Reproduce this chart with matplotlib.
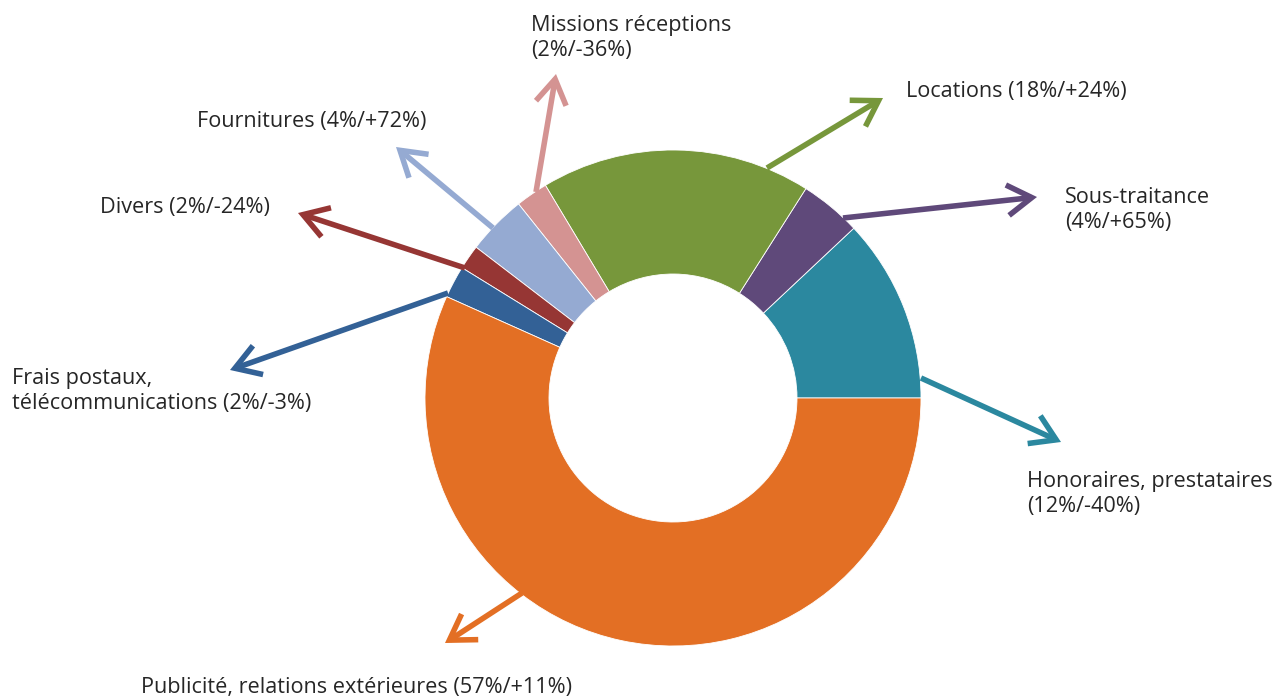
import matplotlib
matplotlib.use("Agg")
import matplotlib.pyplot as plt

# charges 2016 : part du total / evolution
categories = ["Honoraires, prestataires", "Sous-traitance", "Locations",
              "Missions réceptions", "Fournitures", "Divers",
              "Frais postaux, télécommunications",
              "Publicité, relations extérieures"]
shares = [12.0, 4.0, 17.6, 2.1, 3.9, 1.6, 2.1, 56.7]
share_labels = ["12%", "4%", "18%", "2%", "4%", "2%", "2%", "57%"]
changes = ["-40%", "+65%", "+24%", "-36%", "+72%", "-24%", "-3%", "+11%"]

colors = ["#2B889F", "#5F497A", "#77973B", "#D49392",
          "#95AAD2", "#963634", "#336196", "#E36F24"]

# label text as laid out in the picture
label_text = [
    "Honoraires, prestataires\n({}/{})",
    "Sous-traitance\n({}/{})",
    "Locations ({}/{})",
    "Missions réceptions\n({}/{})",
    "Fournitures ({}/{})",
    "Divers ({}/{})",
    "Frais postaux,\ntélécommunications ({}/{})",
    "Publicité, relations extérieures ({}/{})",
]

W, H = 1274, 698
# layout in pixels (y from top): arrow start, arrow tip, label position
arrow_start = [(921, 378), (843, 218), (767, 168), (536, 192),
               (493, 228), (465, 268), (448, 293), (522, 593)]
arrow_tip = [(1061, 442), (1037, 197), (883, 98), (556, 74),
             (396, 147), (298, 213), (230, 370), (445, 643)]
label_pos = [(1027, 494), (1065, 210), (906, 92), (531, 38),
             (197, 122), (100, 207), (12, 391), (141, 687)]

plt.rcParams['font.family'] = ['Open Sans', 'DejaVu Sans']

fig = plt.figure(figsize=(W / 100, H / 100), dpi=100)
ax = fig.add_axes([0, 0, 1, 1])

ax.pie(shares, colors=colors, startangle=0, counterclock=True,
       radius=248, center=(673, H - 398), frame=True,
       wedgeprops=dict(width=124, edgecolor="white", linewidth=0.6))
ax.set_xlim(0, W)
ax.set_ylim(0, H)
ax.axis("off")

for i in range(len(categories)):
    sx, sy = arrow_start[i]
    tx, ty = arrow_tip[i]
    ax.annotate("", xy=(tx, H - ty), xytext=(sx, H - sy),
                arrowprops=dict(arrowstyle="->,head_length=0.8,head_width=0.5",
                                color=colors[i], lw=4.0, mutation_scale=22,
                                shrinkA=0, shrinkB=0, joinstyle="miter",
                                capstyle="butt"),
                zorder=5)
    lx, ly = label_pos[i]
    ax.text(lx, H - ly, label_text[i].format(share_labels[i], changes[i]),
            ha="left", va="center", fontsize=15.6, color="#262626",
            linespacing=1.28)

fig.savefig("out.png", dpi=100)
